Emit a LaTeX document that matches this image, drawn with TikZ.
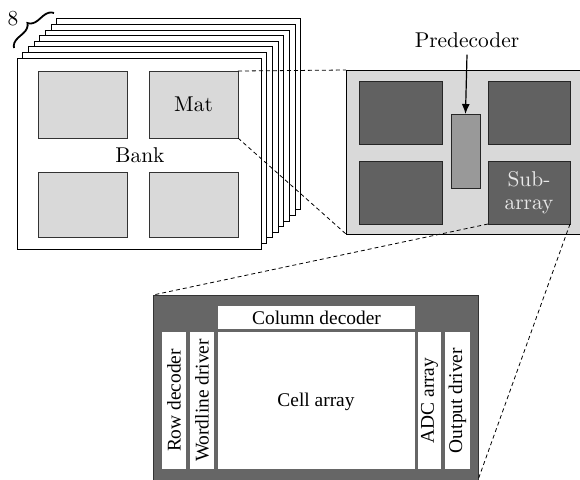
\documentclass[tikz,border=0pt]{standalone}
\usepackage{fontspec}
\newfontfamily\tnr{Liberation Serif}
\usetikzlibrary{arrows.meta,fit,decorations.pathreplacing}
\definecolor{lightg}{HTML}{D9D9D9}
\definecolor{darkg}{HTML}{616161}
\definecolor{midg}{HTML}{999999}
\definecolor{blockg}{HTML}{666666}
\definecolor{satext}{HTML}{E8E8E8}
\begin{document}
\begin{tikzpicture}[x=0.5pt,y=-0.5pt,
  box/.style={inner sep=0pt,outer sep=0pt,line width=0.5pt},
  bankbox/.style={box,draw=black,fill=white},
  matbox/.style={box,draw=black!80,fill=lightg},
  sabox/.style={box,draw=black!85,fill=darkg},
  pdbox/.style={box,draw=black!85,fill=midg},
  blkbox/.style={box,draw=black!80,fill=blockg},
  wbox/.style={box,fill=white},
  zoomline/.style={dashed,dash pattern=on 2pt off 1.5pt,line width=0.4pt},
  lab/.style={font=\fontsize{10.7}{12.5}\selectfont},
  tlab/.style={font=\tnr\fontsize{9.7}{11}\selectfont}]
\useasboundingbox (0,0) rectangle (580,479);
% bank stack
\foreach \k in {7,6,...,1}{
  \node[bankbox,fit={({17+5.7*\k},{58-5.6*\k}) ({261+5.7*\k},{249-5.6*\k})}] (bank\k) {};
}
\node[bankbox,fit={(17,58) (261,249)},lab] (bank) {};
\node[lab] (banklab) at (140,155) {Bank};
\node[matbox,fit={(38,71) (127,138)}] (m1) {};
\node[matbox,fit={(149,71) (238,138)}] (m2) {};
\node[matbox,fit={(38,172) (127,237)}] (m3) {};
\node[matbox,fit={(149,172) (238,237)}] (m4) {};
\node[lab] (matlab) at (m2.center) {Mat};
% brace
\coordinate (b1) at (14,48);
\coordinate (b2) at (54,13);
\draw[decorate,decoration={brace,amplitude=5pt,aspect=0.5},line width=0.9pt] (b1) -- (b2);
\node[lab,inner sep=0pt] (eight) at (13,19) {8};
% mat block
\node[matbox,draw=black,fit={(346,70) (583,234)}] (mat) {};
\node[sabox,fit={(359,81) (442,144)}] (s1) {};
\node[sabox,fit={(359,161) (442,224)}] (s2) {};
\node[sabox,fit={(488,81) (570,144)}] (s3) {};
\node[sabox,fit={(488,161) (570,224)}] (s4) {};
\node[lab,text=satext,align=center] (salab) at (s4.center) {Sub-\\[-1pt]array};
\node[pdbox,fit={(451,114) (480,188)}] (pd) {};
\node[lab] (pdlab) at (467,40) {Predecoder};
\draw[line width=0.6pt,-{Latex[length=5pt,width=4pt]}] (pdlab.south) -- (pd.north);
% zoom lines
\draw[zoomline] (m2.north east) -- (mat.north west);
\draw[zoomline] (m2.south east) -- (mat.south west);
% subarray block
\node[blkbox,fit={(153,295) (478,480)}] (blk) {};
\node[wbox,fit={(218,306) (415,329)}] (cd) {};
\node[wbox,fit={(218,332) (415,469)}] (ca) {};
\node[wbox,fit={(162,332) (186,469)}] (rd) {};
\node[wbox,fit={(190,332) (214,469)}] (wd) {};
\node[wbox,fit={(418,332) (441,469)}] (adc) {};
\node[wbox,fit={(445,332) (470,469)}] (od) {};
\node[tlab] (cdlab) at (cd.center) {Column decoder};
\node[tlab] (calab) at (316,402) {Cell array};
\node[tlab,rotate=90] (rdlab) at (rd.center) {Row decoder};
\node[tlab,rotate=90] (wdlab) at (wd.center) {Wordline driver};
\node[tlab,rotate=90] (adclab) at (adc.center) {ADC array};
\node[tlab,rotate=90] (odlab) at (od.center) {Output driver};
\draw[zoomline] (s4.south west) -- (blk.north west);
\draw[zoomline] (s4.south east) -- (blk.south east);
\end{tikzpicture}
\end{document}
